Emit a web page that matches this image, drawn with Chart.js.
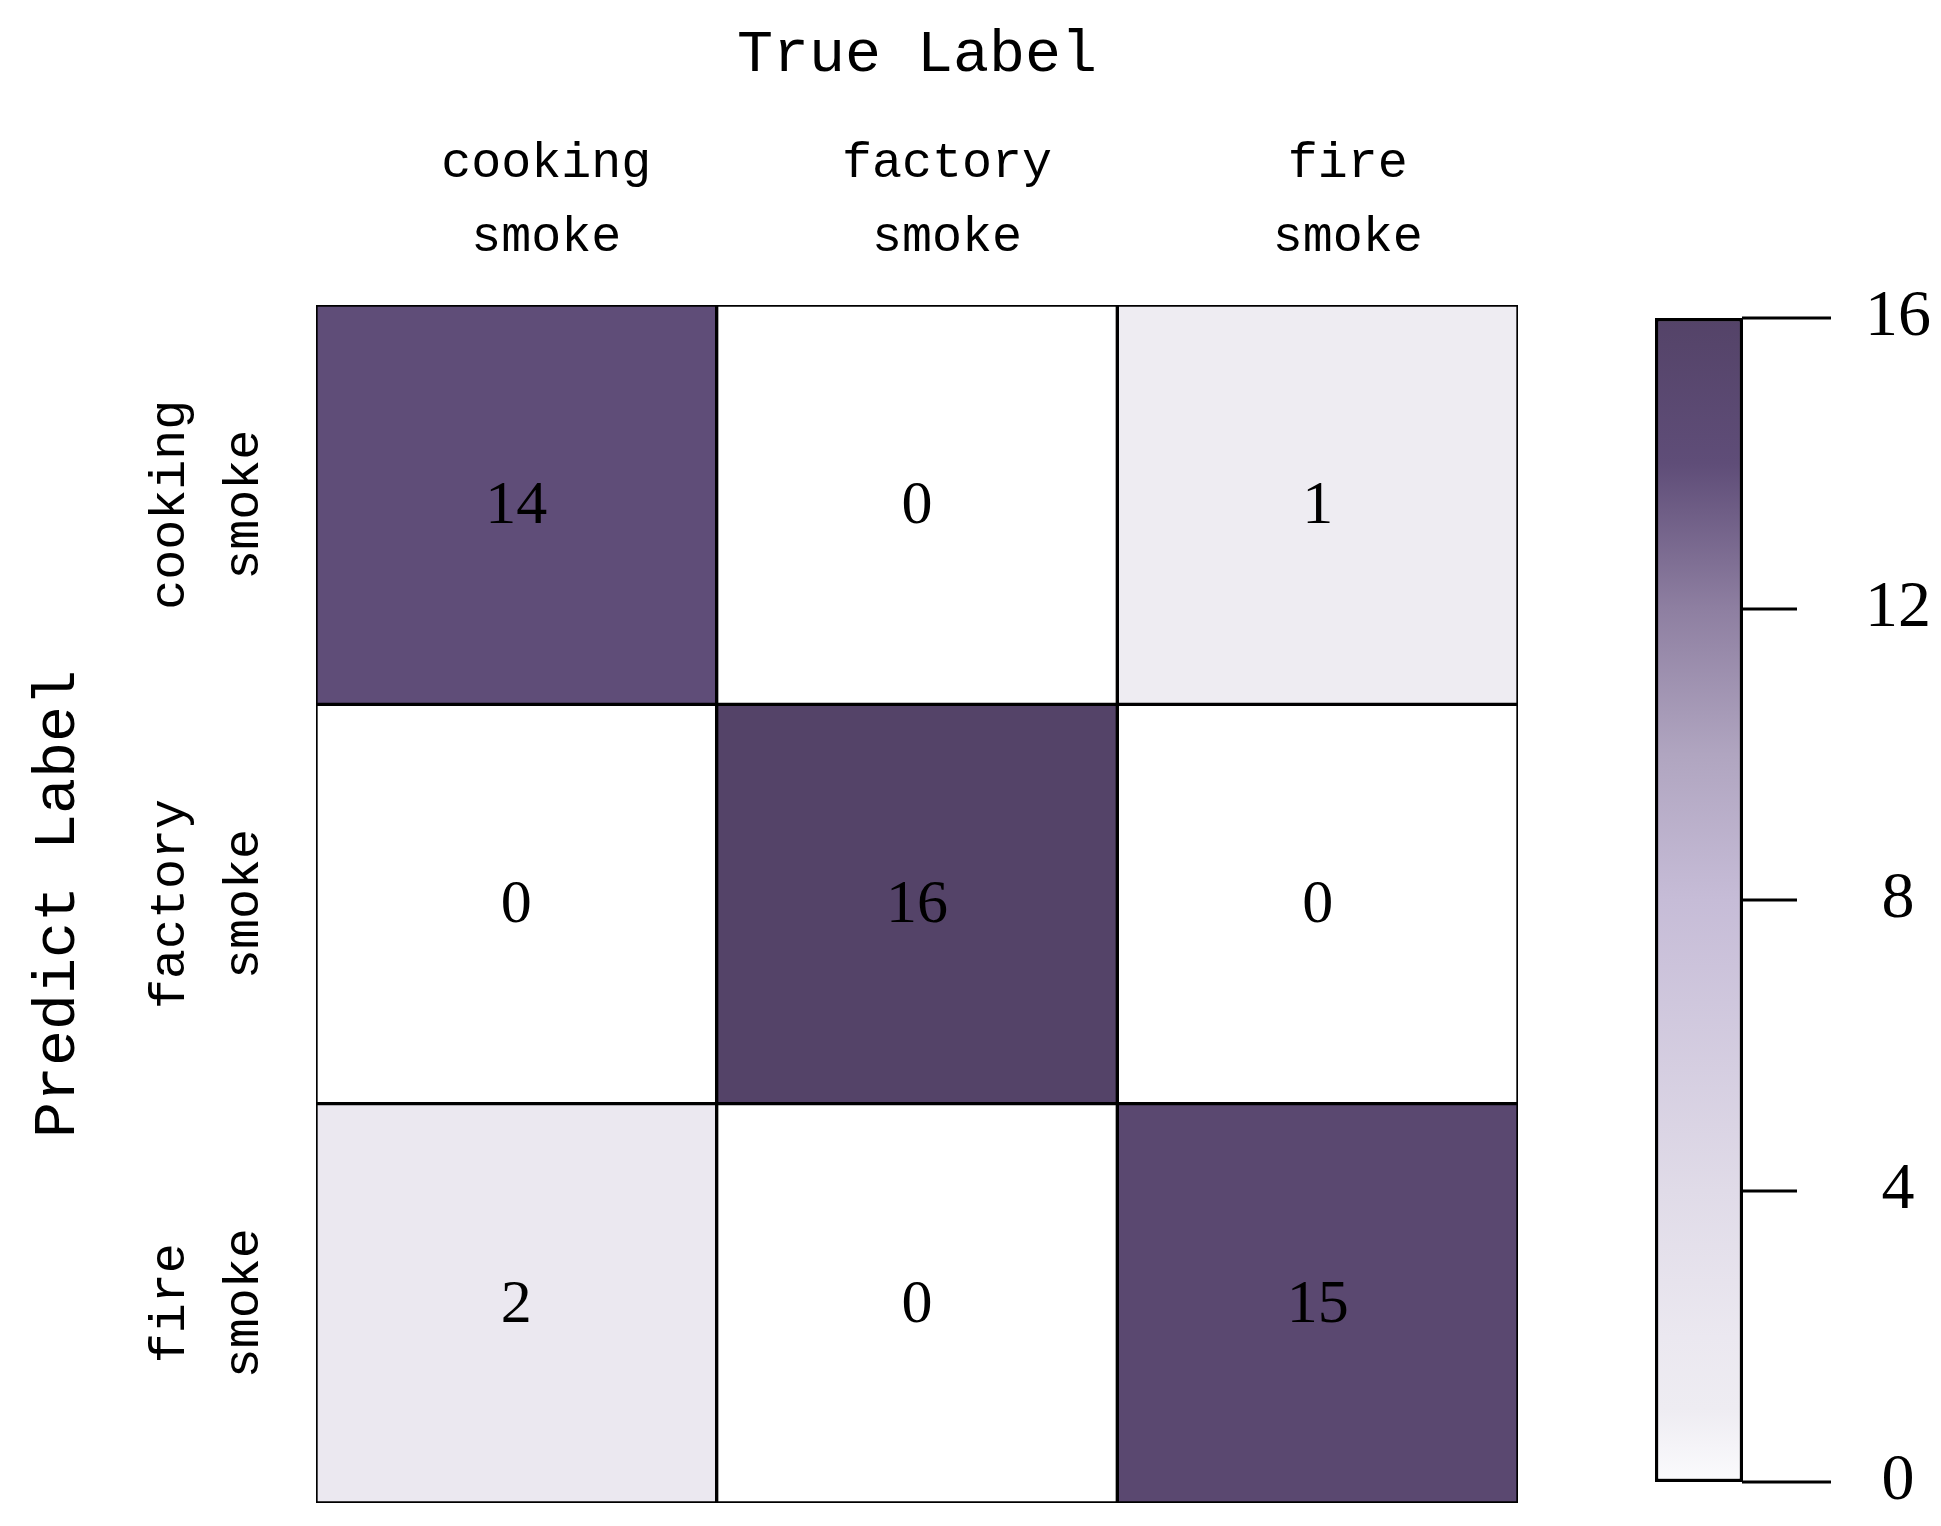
<!DOCTYPE html>
<html>
<head>
<meta charset="utf-8">
<script src="https://cdn.jsdelivr.net/npm/chart.js@4.4.1/dist/chart.umd.min.js"></script>
<style>
  html, body { margin: 0; padding: 0; background: #fff; overflow: hidden; }
  #wrap { position: relative; width: 1941px; height: 1526px; }
  #matrix { position: absolute; left: 0; top: 0; }
  #colorbar { position: absolute; left: 1600px; top: 0; }
</style>
</head>
<body>
<div id="wrap">
  <canvas id="matrix" width="1941" height="1526"></canvas>
  <canvas id="colorbar" width="341" height="1526"></canvas>
</div>
<script>
// confusion matrix: rows = predicted, columns = true
const trueLabels = [['cooking', 'smoke'], ['factory', 'smoke'], ['fire', 'smoke']];
const predictLabels = [['cooking', 'smoke'], ['factory', 'smoke'], ['fire', 'smoke']];
const predCooking = [14, 0, 1];
const predFactory = [0, 16, 0];
const predFire = [2, 0, 15];
const counts = [predCooking, predFactory, predFire];

// colour scale
const cbTicks = [0, 4, 8, 12, 16];
const cmapValues = [0, 1, 2, 4, 8, 10, 12, 14, 16];
const cmapColors = ['#fbfbfd', '#eeecf2', '#ebe8f0', '#e0dbe8', '#c6bcd7', '#b0a5c0', '#8e7fa1', '#5f4d78', '#544368'];

const vMax = 16;
const monoFont = 'Liberation Mono, DejaVu Sans Mono, monospace';
const serifFont = 'Liberation Serif, DejaVu Serif, serif';

function hexToRgb(h) {
    return [parseInt(h.slice(1, 3), 16), parseInt(h.slice(3, 5), 16), parseInt(h.slice(5, 7), 16)];
}

// interpolación lineal en el mapa de colores
function colorFor(v) {
    if (v === 0) return '#ffffff';
    for (let i = 1; i < cmapValues.length; i++) {
        if (v <= cmapValues[i]) {
            const t = (v - cmapValues[i - 1]) / (cmapValues[i] - cmapValues[i - 1]);
            const a = hexToRgb(cmapColors[i - 1]);
            const b = hexToRgb(cmapColors[i]);
            const c = a.map((x, k) => Math.round(x + (b[k] - x) * t));
            return `rgb(${c[0]},${c[1]},${c[2]})`;
        }
    }
    return cmapColors[cmapColors.length - 1];
}

// quitar el relleno extra que Chart.js reserva para las etiquetas de los extremos
function noEdgePadding(scale) {
    scale.paddingTop = 0;
    scale.paddingBottom = 0;
    scale.paddingLeft = 0;
    scale.paddingRight = 0;
}

// números dentro de cada celda
const cellTextPlugin = {
    id: 'cellText',
    afterDatasetsDraw(chart) {
        const ctx = chart.ctx;
        ctx.save();
        ctx.fillStyle = '#000';
        ctx.font = `62px ${serifFont}`;
        ctx.textAlign = 'center';
        ctx.textBaseline = 'middle';
        chart.data.datasets.forEach((ds, r) => {
            const meta = chart.getDatasetMeta(r);
            meta.data.forEach((el, c) => {
                const p = el.getCenterPoint();
                ctx.fillText(String(counts[r][c]), p.x, p.y + 2);
            });
        });
        ctx.restore();
    }
};

const matrixDatasets = counts.map((row, r) => ({
    label: predictLabels[r].join(' '),
    data: row.map(() => [r, r + 1]),
    backgroundColor: row.map(colorFor),
    borderColor: '#000',
    borderWidth: 2,
    borderSkipped: false,
    barPercentage: 1,
    categoryPercentage: 1,
    grouped: false
}));

new Chart(document.getElementById('matrix').getContext('2d'), {
    type: 'bar',
    data: { labels: trueLabels, datasets: matrixDatasets },
    options: {
        responsive: false,
        animation: false,
        events: [],
        layout: { padding: { top: 0, left: 0, right: 423, bottom: 23 } },
        plugins: { legend: { display: false }, tooltip: { enabled: false } },
        scales: {
            x: {
                type: 'category',
                position: 'top',
                offset: true,
                grid: { display: false, drawTicks: false },
                border: { display: false },
                ticks: {
                    color: '#000',
                    font: { family: monoFont, size: 50, lineHeight: 1.48 },
                    padding: 30,
                    labelOffset: 30,
                    maxRotation: 0,
                    autoSkip: false
                },
                title: {
                    display: true,
                    text: 'True Label',
                    color: '#000',
                    font: { family: monoFont, size: 60 },
                    padding: { top: 19, bottom: 0 }
                },
                afterFit: (scale) => { scale.height = 305; noEdgePadding(scale); }
            },
            y: {
                type: 'linear',
                min: 0,
                max: 3,
                reverse: true,
                grid: { display: false, drawTicks: false },
                border: { display: false },
                afterBuildTicks: (scale) => {
                    scale.ticks = predictLabels.map((_, i) => ({ value: i + 0.5 }));
                },
                ticks: {
                    color: '#000',
                    font: { family: monoFont, size: 50, lineHeight: 1.48 },
                    minRotation: 90,
                    maxRotation: 90,
                    crossAlign: 'center',
                    padding: 3,
                    autoSkip: false,
                    callback: (v) => predictLabels[Math.floor(v)]
                },
                title: {
                    display: true,
                    text: 'Predict Label',
                    color: '#000',
                    font: { family: monoFont, size: 60 },
                    padding: { top: 22, bottom: 0 }
                },
                afterFit: (scale) => { scale.width = 316; noEdgePadding(scale); }
            }
        }
    },
    plugins: [cellTextPlugin]
});

// barra de color con marcas largas en los extremos
const cbTickPlugin = {
    id: 'cbTicks',
    afterDraw(chart) {
        const ctx = chart.ctx;
        const y = chart.scales.y;
        const right = chart.chartArea.right;
        ctx.save();
        ctx.strokeStyle = '#000';
        ctx.lineWidth = 3;
        cbTicks.forEach(v => {
            const py = y.getPixelForValue(v);
            const len = (v === cbTicks[0] || v === cbTicks[cbTicks.length - 1]) ? 88 : 54;
            ctx.beginPath();
            ctx.moveTo(right - 1, py);
            ctx.lineTo(right + len, py);
            ctx.stroke();
        });
        ctx.restore();
    }
};

new Chart(document.getElementById('colorbar').getContext('2d'), {
    type: 'bar',
    data: {
        labels: [''],
        datasets: [{
            data: [[0, vMax]],
            backgroundColor: (c) => {
                const chart = c.chart;
                if (!chart.chartArea) return cmapColors[0];
                const y = chart.scales.y;
                const y0 = y.getPixelForValue(0);
                const y1 = y.getPixelForValue(vMax);
                const g = chart.ctx.createLinearGradient(0, y0, 0, y1);
                cmapValues.forEach((v, i) => g.addColorStop(v / vMax, cmapColors[i]));
                return g;
            },
            borderColor: '#000',
            borderWidth: 3.5,
            borderSkipped: false,
            barPercentage: 1,
            categoryPercentage: 1
        }]
    },
    options: {
        responsive: false,
        animation: false,
        events: [],
        layout: { padding: { top: 318, left: 55, right: 0, bottom: 44 } },
        plugins: { legend: { display: false }, tooltip: { enabled: false } },
        scales: {
            x: { display: false },
            y: {
                position: 'right',
                min: 0,
                max: vMax,
                grid: { display: false, drawTicks: false },
                border: { display: false },
                afterBuildTicks: (scale) => {
                    scale.ticks = cbTicks.map(v => ({ value: v }));
                },
                ticks: {
                    color: '#000',
                    font: { family: serifFont, size: 66 },
                    crossAlign: 'center',
                    padding: 122,
                    autoSkip: false
                },
                afterFit: (scale) => { scale.width = 198; noEdgePadding(scale); }
            }
        }
    },
    plugins: [cbTickPlugin]
});
</script>
</body>
</html>
